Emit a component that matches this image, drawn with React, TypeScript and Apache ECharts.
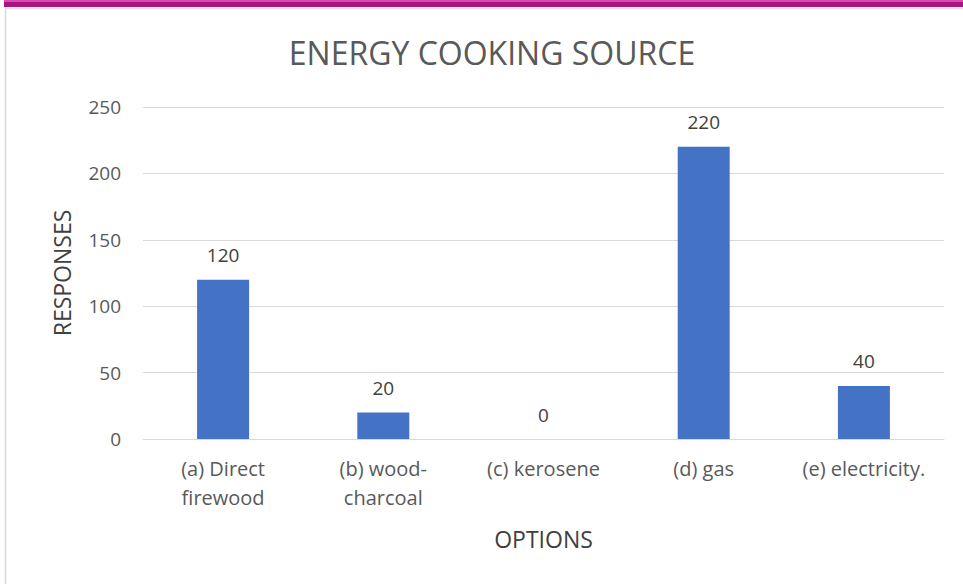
import React, { useEffect, useRef } from "react";
import * as echarts from "echarts";

const categories = [
  "(a) Direct\nfirewood",
  "(b) wood-\ncharcoal",
  "(c) kerosene",
  "(d) gas",
  "(e) electricity.",
];
const responses = [120, 20, 0, 220, 40];
const yTicks = { min: 0, max: 250, interval: 50 };
const titleText = "ENERGY COOKING SOURCE";
const xName = "OPTIONS";
const yName = "RESPONSES";

const FONT = "'Open Sans', 'Noto Sans', sans-serif";

export default function App() {
  const ref = useRef<HTMLDivElement>(null);
  useEffect(() => {
    const chart = echarts.init(ref.current!, null, { renderer: "svg" });
    chart.setOption({
      animation: false,
      backgroundColor: "#ffffff",
      title: {
        text: titleText,
        left: 487,
        top: 31,
        textAlign: "center",
        textStyle: { fontFamily: FONT, fontSize: 32, fontWeight: "normal", color: "#595959" },
      },
      graphic: [
        { type: "rect", shape: { x: 4, y: 0, width: 959, height: 2 }, style: { fill: "#D94BB5" }, z: 100 },
        { type: "rect", shape: { x: 4, y: 2, width: 959, height: 5 }, style: { fill: "#A8157F" }, z: 100 },
        { type: "line", shape: { x1: 5.5, y1: 7, x2: 5.5, y2: 584 }, style: { stroke: "#d9d9d9", lineWidth: 1.5 }, z: 100 },
        { type: "line", shape: { x1: 5, y1: 8.5, x2: 963, y2: 8.5 }, style: { stroke: "#e0e0e0", lineWidth: 1.5 }, z: 100 },
      ],
      grid: { left: 143, right: 19, top: 107, bottom: 145, containLabel: false },
      xAxis: {
        type: "category",
        data: categories,
        name: xName,
        nameLocation: "middle",
        nameGap: 88,
        nameTextStyle: { fontFamily: FONT, fontSize: 23, color: "#404040" },
        axisLine: { lineStyle: { color: "#d9d9d9", width: 1 } },
        axisTick: { show: false },
        axisLabel: {
          fontFamily: FONT,
          fontSize: 20,
          color: "#595959",
          margin: 15,
          lineHeight: 29,
          interval: 0,
        },
      },
      yAxis: {
        type: "value",
        min: yTicks.min,
        max: yTicks.max,
        interval: yTicks.interval,
        name: yName,
        nameLocation: "middle",
        nameGap: 70,
        nameRotate: 90,
        nameTextStyle: { fontFamily: FONT, fontSize: 23, color: "#404040" },
        axisLine: { show: false },
        axisTick: { show: false },
        splitLine: { lineStyle: { color: "#d9d9d9", width: 1 } },
        axisLabel: { fontFamily: FONT, fontSize: 19, color: "#595959", margin: 22 },
      },
      series: [
        {
          type: "bar",
          data: responses,
          barWidth: 52,
          itemStyle: { color: "#4472C4" },
          label: {
            show: true,
            position: "top",
            distance: 15,
            fontFamily: FONT,
            fontSize: 19,
            color: "#404040",
          },
        },
      ],
    });
    return () => chart.dispose();
  }, []);
  return (
    <div
      ref={ref}
      style={{ position: "fixed", left: 0, top: 0, width: 963, height: 584 }}
    />
  );
}
